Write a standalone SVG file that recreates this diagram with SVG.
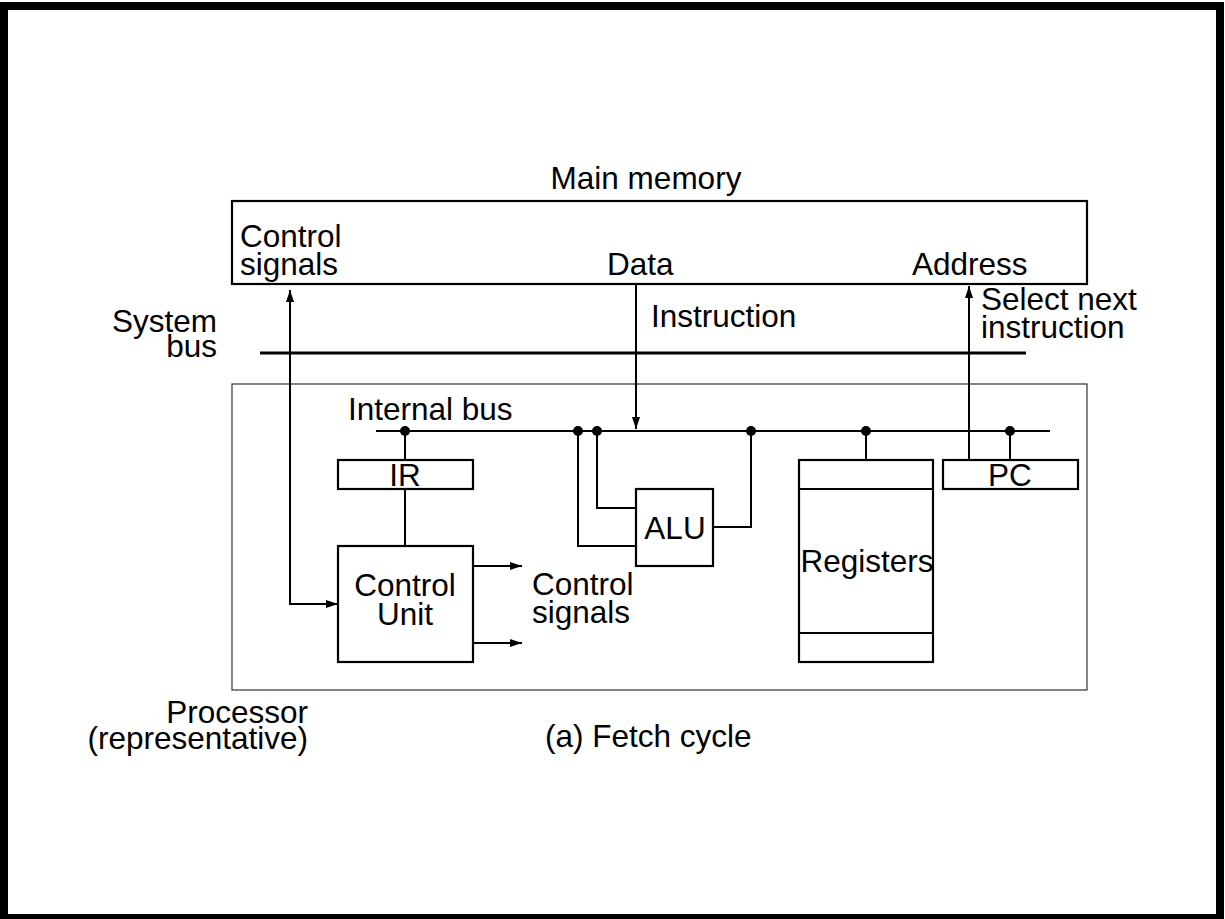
<svg xmlns="http://www.w3.org/2000/svg" width="1225" height="919" viewBox="0 0 1225 919">
<style>
text{font-family:"Liberation Sans",Arial,sans-serif;font-size:31.5px;fill:#000}
.box{fill:none;stroke:#000;stroke-width:2.2}
.wire{fill:none;stroke:#000;stroke-width:2}
.dot{fill:#000}
.mid{text-anchor:middle}
.end{text-anchor:end}
</style>
<defs>
<marker id="ah" viewBox="0 0 12 8" refX="12" refY="4" markerWidth="12" markerHeight="8" markerUnits="userSpaceOnUse" orient="auto-start-reverse">
<path d="M0,0 L12,4 L0,8 Z" fill="#000"/>
</marker>
</defs>
<rect x="0" y="0" width="1225" height="919" fill="#fff"/>
<rect x="4" y="6" width="1216" height="912" fill="none" stroke="#000" stroke-width="8"/>

<g id="memory">
<rect class="box" x="232" y="201" width="855" height="83"/>
<text class="mid" x="646" y="189">Main memory</text>
<text x="240" y="247">Control</text>
<text x="240" y="275">signals</text>
<text x="607" y="275">Data</text>
<text x="912" y="275">Address</text>
</g>

<g id="processor">
<rect x="232" y="384" width="855" height="306" fill="none" stroke="#333" stroke-width="1.2"/>
<text class="end" x="308" y="723">Processor</text>
<text class="end" x="308" y="749">(representative)</text>
</g>

<g id="systembus">
<line x1="260" y1="353" x2="1026" y2="353" stroke="#000" stroke-width="3"/>
<text class="end" x="217" y="332">System</text>
<text class="end" x="217" y="357">bus</text>
</g>

<g id="internalbus">
<line class="wire" x1="376" y1="431" x2="1050" y2="431"/>
<text x="348" y="420">Internal bus</text>
</g>

<g id="ir">
<rect class="box" x="338" y="460" width="135" height="29"/>
<text class="mid" x="405" y="486">IR</text>
</g>

<g id="controlunit">
<rect class="box" x="338" y="546" width="135" height="116"/>
<text class="mid" x="405" y="596">Control</text>
<text class="mid" x="405" y="625">Unit</text>
</g>

<g id="alu">
<rect class="box" x="636" y="489" width="77" height="77"/>
<text class="mid" x="675" y="539">ALU</text>
</g>

<g id="registers">
<rect class="box" x="799" y="460" width="134" height="202"/>
<line class="wire" x1="799" y1="489" x2="933" y2="489"/>
<line class="wire" x1="799" y1="633" x2="933" y2="633"/>
<text class="mid" x="867" y="572">Registers</text>
</g>

<g id="pc">
<rect class="box" x="943" y="460" width="135" height="29"/>
<text class="mid" x="1010" y="486">PC</text>
</g>

<g id="connectors">
<polyline class="wire" points="290,290 290,604 338,604" marker-start="url(#ah)" marker-end="url(#ah)"/>
<line class="wire" x1="636" y1="284" x2="636" y2="429" marker-end="url(#ah)"/>
<line class="wire" x1="969" y1="460" x2="969" y2="286" marker-end="url(#ah)"/>
<line class="wire" x1="405" y1="431" x2="405" y2="460"/>
<line class="wire" x1="405" y1="489" x2="405" y2="546"/>
<polyline class="wire" points="578,431 578,546 636,546"/>
<polyline class="wire" points="597,431 597,508 636,508"/>
<polyline class="wire" points="713,527 751,527 751,431"/>
<line class="wire" x1="866" y1="431" x2="866" y2="460"/>
<line class="wire" x1="1010" y1="431" x2="1010" y2="460"/>
<line class="wire" x1="473" y1="566" x2="522" y2="566" marker-end="url(#ah)"/>
<line class="wire" x1="473" y1="643" x2="522" y2="643" marker-end="url(#ah)"/>
<circle class="dot" cx="405" cy="431" r="5"/>
<circle class="dot" cx="578" cy="431" r="5"/>
<circle class="dot" cx="597" cy="431" r="5"/>
<circle class="dot" cx="751" cy="431" r="5"/>
<circle class="dot" cx="866" cy="431" r="5"/>
<circle class="dot" cx="1010" cy="431" r="5"/>
<text x="651" y="327">Instruction</text>
<text x="981" y="310">Select next</text>
<text x="981" y="338">instruction</text>
<text x="532" y="595">Control</text>
<text x="532" y="623">signals</text>
<text x="545" y="747">(a) Fetch cycle</text>
</g>
</svg>
